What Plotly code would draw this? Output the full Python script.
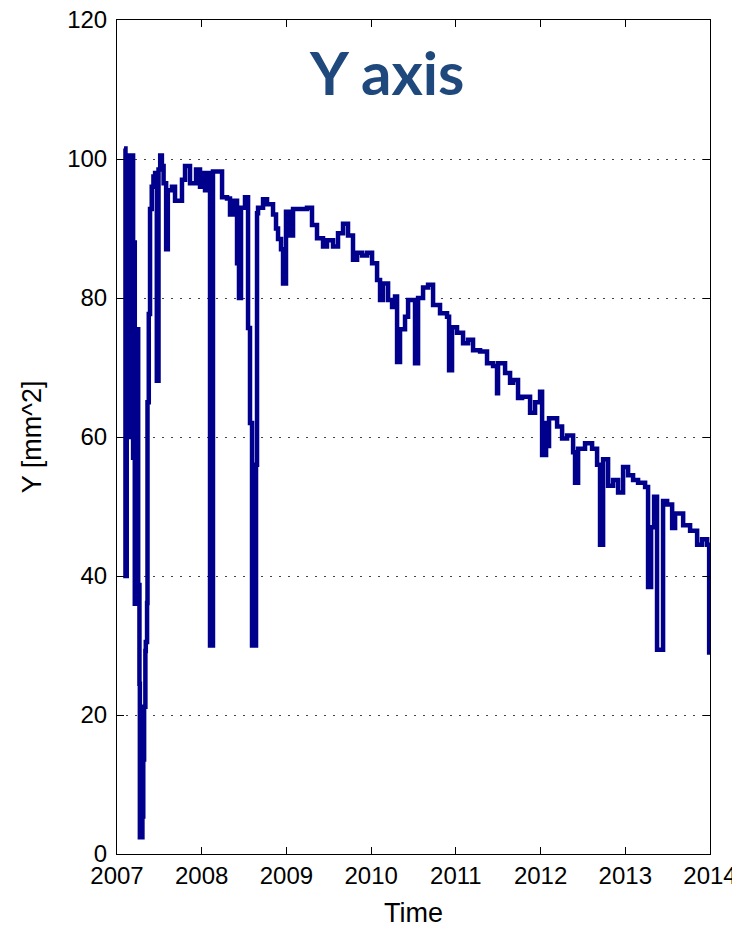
import plotly.graph_objects as go

# Measurement record (decimal year, value), drawn as a step series
years = [
    2007.083, 2007.100, 2007.115, 2007.130, 2007.150, 2007.160, 2007.180, 2007.190,
    2007.200, 2007.210, 2007.235, 2007.250, 2007.265, 2007.270, 2007.300, 2007.310,
    2007.320, 2007.335, 2007.340, 2007.355, 2007.360, 2007.375, 2007.390, 2007.410,
    2007.430, 2007.450, 2007.470, 2007.490, 2007.510, 2007.530, 2007.550, 2007.580,
    2007.600, 2007.649, 2007.685, 2007.767, 2007.803, 2007.862, 2007.933, 2007.980,
    2008.000, 2008.039, 2008.070, 2008.098, 2008.133, 2008.240, 2008.299, 2008.334,
    2008.370, 2008.417, 2008.440, 2008.464, 2008.511, 2008.547, 2008.570, 2008.594,
    2008.641, 2008.653, 2008.665, 2008.724, 2008.771, 2008.842, 2008.877, 2008.901,
    2008.936, 2008.960, 2008.995, 2009.042, 2009.078, 2009.243, 2009.302, 2009.361,
    2009.432, 2009.479, 2009.550, 2009.609, 2009.668, 2009.727, 2009.786, 2009.834,
    2009.893, 2009.952, 2010.011, 2010.070, 2010.105, 2010.140, 2010.200, 2010.247,
    2010.282, 2010.306, 2010.341, 2010.400, 2010.436, 2010.518, 2010.554, 2010.613,
    2010.672, 2010.731, 2010.813, 2010.896, 2010.920, 2010.955, 2011.014, 2011.085,
    2011.144, 2011.203, 2011.286, 2011.368, 2011.439, 2011.486, 2011.498, 2011.581,
    2011.640, 2011.675, 2011.734, 2011.782, 2011.876, 2011.935, 2011.994, 2012.018,
    2012.065, 2012.077, 2012.100, 2012.195, 2012.254, 2012.313, 2012.384, 2012.407,
    2012.443, 2012.525, 2012.608, 2012.667, 2012.702, 2012.738, 2012.797, 2012.856,
    2012.915, 2012.974, 2013.033, 2013.092, 2013.151, 2013.234, 2013.269, 2013.305,
    2013.340, 2013.375, 2013.446, 2013.494, 2013.553, 2013.588, 2013.683, 2013.765,
    2013.848, 2013.907, 2013.966, 2013.990, 2014.000,
]
values = [
    101.5, 40.0, 90.0, 100.5, 60.0, 85.0, 100.5, 57.0,
    88.0, 36.0, 75.5, 38.7, 24.5, 2.4, 5.4, 13.6,
    21.2, 29.2, 30.5, 36.1, 65.0, 77.7, 92.8, 96.0,
    97.5, 98.0, 68.1, 98.5, 100.5, 99.0, 96.5, 87.0,
    95.5, 96.0, 94.0, 97.0, 99.0, 96.5, 98.5, 96.0,
    98.0, 95.5, 98.0, 30.0, 98.2, 94.5, 94.3, 92.0,
    94.0, 85.0, 80.0, 93.0, 94.5, 75.7, 62.0, 30.0,
    56.0, 92.2, 93.0, 94.2, 93.5, 92.0, 90.0, 88.5,
    87.0, 82.1, 92.4, 89.0, 92.8, 93.0, 90.5, 88.6,
    87.4, 88.3, 87.4, 89.3, 90.7, 89.0, 85.5, 86.5,
    86.1, 86.5, 85.0, 82.6, 79.7, 82.1, 79.7, 78.7,
    80.2, 70.8, 75.5, 77.3, 79.7, 70.6, 80.0, 81.5,
    81.9, 79.0, 77.8, 77.3, 69.6, 75.8, 75.0, 73.5,
    74.0, 72.5, 72.3, 70.6, 70.2, 66.3, 70.6, 69.2,
    67.8, 68.2, 65.6, 65.8, 63.5, 65.0, 66.5, 57.4,
    62.0, 58.7, 62.7, 61.5, 59.8, 60.2, 57.8, 53.4,
    58.3, 59.1, 58.3, 56.0, 44.5, 56.8, 53.0, 53.8,
    52.0, 55.7, 54.5, 53.8, 53.4, 52.8, 38.4, 47.0,
    51.4, 29.4, 50.8, 50.3, 46.9, 49.0, 47.3, 46.5,
    44.5, 45.3, 44.5, 29.0, 29.0,
]

x_ticks = [2007, 2008, 2009, 2010, 2011, 2012, 2013, 2014]
x_labels = [str(v) for v in x_ticks]
y_ticks = [0, 20, 40, 60, 80, 100, 120]

tick_font = dict(family="Liberation Sans, Arial, sans-serif", size=24, color="black")

fig = go.Figure()
fig.add_trace(go.Scatter(
    x=years, y=values, mode="lines",
    line=dict(color="rgb(0,0,140)", width=4.5, shape="hv"),
    showlegend=False, hoverinfo="skip",
))

axis_common = dict(
    showline=True, linecolor="black", linewidth=1, mirror="ticks",
    ticks="inside", ticklen=7, tickwidth=1, tickcolor="black",
    tickfont=tick_font, zeroline=False, automargin=False,
    ticklabeloverflow="allow",
)

fig.update_layout(
    width=732, height=929,
    margin=dict(l=117, r=22, t=20, b=75),
    paper_bgcolor="white", plot_bgcolor="white",
    xaxis=dict(
        range=[2007, 2014], tickvals=x_ticks, ticktext=x_labels,
        showgrid=False, ticklabelstandoff=0, **axis_common,
    ),
    yaxis=dict(
        range=[0, 120], tickvals=y_ticks,
        showgrid=True, gridcolor="#444444", gridwidth=1, griddash="2px,7px",
        ticklabelstandoff=4, **axis_common,
    ),
    annotations=[
        dict(text="<b>Y axis</b>", x=0.455, y=0.938, xref="paper", yref="paper",
             xanchor="center", yanchor="middle", showarrow=False,
             font=dict(family="Lato, Calibri, sans-serif", size=60, color="#1f497d")),
        dict(text="Time", x=0.5, y=-0.05, xref="paper", yref="paper",
             xanchor="center", yanchor="top", showarrow=False,
             font=dict(family="Liberation Sans, Arial, sans-serif", size=27, color="black")),
        dict(text="Y [mm^2]", x=-0.143, y=0.5, xref="paper", yref="paper",
             xanchor="center", yanchor="middle", showarrow=False, textangle=-90,
             font=dict(family="Liberation Sans, Arial, sans-serif", size=27, color="black")),
    ],
)

fig.write_html("out.html")
